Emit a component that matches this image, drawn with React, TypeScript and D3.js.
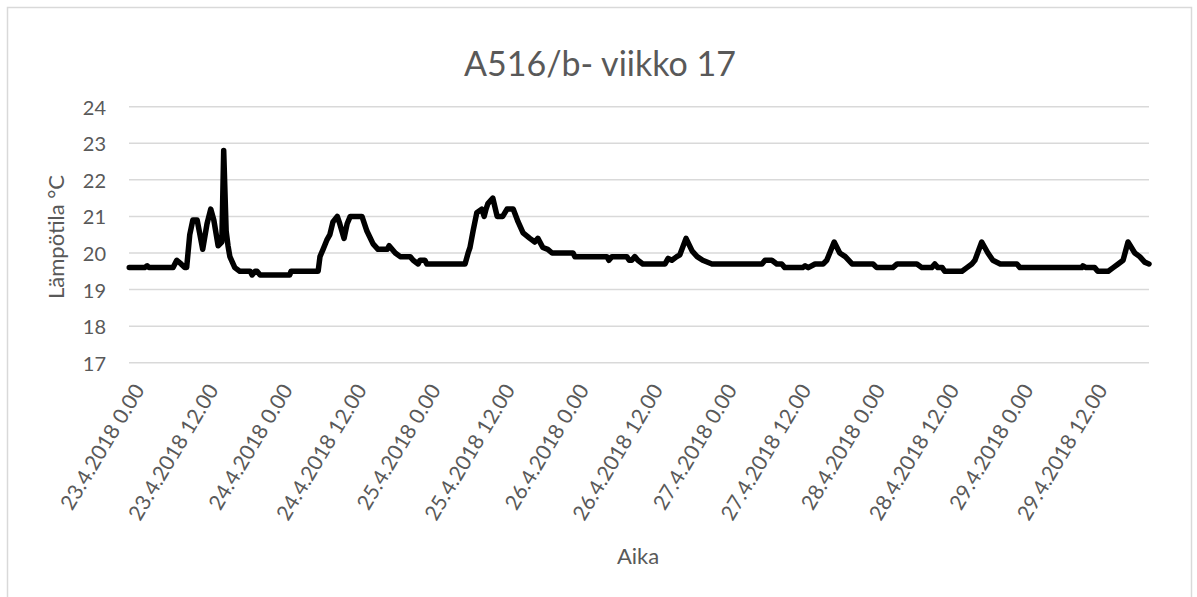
import React from "react";
import * as d3 from "d3";

// Hours since 23.4.2018 0.00
const hours = [
  -1.9, 0.6, 1.0, 1.3, 5.2, 5.8, 6.5, 7.1, 7.4, 7.9, 8.4, 9.1, 10.0, 10.7, 11.3, 11.8, 12.5, 13.1, 13.4, 13.8,
  14.1, 14.4, 15.2, 16.0, 17.7, 18.0, 18.5, 18.8, 19.3, 24.1, 24.3, 28.7, 29.0, 29.5, 30.1, 30.6, 31.1, 31.8,
  32.2, 32.9, 33.4, 33.9, 35.8, 36.6, 37.6, 38.4, 39.9, 40.2, 41.2, 42.0, 43.6, 44.1, 44.9, 45.2, 46.0, 46.3,
  52.5, 53.0, 53.3, 53.8, 54.4, 55.2, 55.6, 55.9, 56.2, 57.0, 57.7, 58.6, 59.3, 60.3, 61.1, 61.9, 63.0, 63.8,
  64.3, 65.1, 65.9, 66.6, 70.0, 70.3, 75.5, 75.8, 76.3, 78.7, 79.1, 79.5, 80.0, 80.5, 81.3, 84.9, 85.4, 86.0,
  86.8, 87.3, 88.3, 89.3, 90.1, 91.0, 92.5, 100.6, 101.1, 102.2, 103.0, 103.8, 104.3, 107.2, 107.6, 108.1,
  109.2, 110.5, 111.1, 112.3, 113.2, 114.1, 115.2, 118.6, 119.2, 121.8, 122.5, 125.7, 126.5, 128.1, 128.6,
  129.1, 129.8, 130.2, 133.0, 133.8, 134.6, 135.1, 136.2, 137.2, 138.0, 139.2, 141.9, 142.4, 152.4, 152.6,
  153.1, 154.5, 155.0, 156.7, 157.5, 158.3, 159.1, 159.9, 161.0, 161.8, 162.6, 163.3,
];

const temps = [
  19.6, 19.6, 19.65, 19.6, 19.6, 19.8, 19.7, 19.6, 19.6, 20.5, 20.9, 20.9, 20.1, 20.8, 21.2, 20.9, 20.2, 20.3, 22.8, 20.6,
  20.2, 19.9, 19.6, 19.5, 19.5, 19.4, 19.5, 19.5, 19.4, 19.4, 19.5, 19.5, 19.9, 20.1, 20.35, 20.5, 20.85, 21.0,
  20.8, 20.4, 20.8, 21.0, 21.0, 20.6, 20.25, 20.1, 20.1, 20.2, 20.0, 19.9, 19.9, 19.8, 19.7, 19.8, 19.8, 19.7,
  19.7, 20.0, 20.15, 20.6, 21.1, 21.2, 21.0, 21.2, 21.35, 21.5, 21.0, 21.0, 21.2, 21.2, 20.85, 20.55, 20.4, 20.3,
  20.4, 20.15, 20.1, 20.0, 20.0, 19.9, 19.9, 19.8, 19.9, 19.9, 19.8, 19.8, 19.9, 19.8, 19.7, 19.7, 19.85, 19.8,
  19.9, 19.95, 20.4, 20.05, 19.9, 19.8, 19.7, 19.7, 19.8, 19.8, 19.7, 19.7, 19.6, 19.6, 19.65, 19.6,
  19.7, 19.7, 19.8, 20.3, 20.0, 19.9, 19.7, 19.7, 19.6, 19.6, 19.7, 19.7, 19.6, 19.6, 19.7,
  19.6, 19.6, 19.5, 19.5, 19.6, 19.7, 19.8, 20.3, 20.0, 19.8, 19.7, 19.7, 19.6, 19.6, 19.65,
  19.6, 19.6, 19.5, 19.5, 19.6, 19.7, 19.8, 20.3, 20.0, 19.9, 19.75, 19.7,
];

const tickHours = [0, 12, 24, 36, 48, 60, 72, 84, 96, 108, 120, 132, 144, 156];
const tickLabels = [
  "23.4.2018 0.00", "23.4.2018 12.00", "24.4.2018 0.00", "24.4.2018 12.00",
  "25.4.2018 0.00", "25.4.2018 12.00", "26.4.2018 0.00", "26.4.2018 12.00",
  "27.4.2018 0.00", "27.4.2018 12.00", "28.4.2018 0.00", "28.4.2018 12.00",
  "29.4.2018 0.00", "29.4.2018 12.00",
];
const yTicks = [17, 18, 19, 20, 21, 22, 23, 24];

const title = "A516/b- viikko 17";
const yTitle = "Lämpötila °C";
const xTitle = "Aika";

export default function App() {
  const W = 1197, H = 597;
  const plotL = 129, plotR = 1149, plotT = 106.7, plotB = 362.7;
  const font = "Lato, 'Open Sans', sans-serif";
  const grey = "#595959";

  const x = d3.scaleLinear().domain([-1.94, 163.3]).range([plotL, plotR]);
  const y = d3.scaleLinear().domain([17, 24]).range([plotB, plotT]);
  const pts: [number, number][] = hours.map((h, i) => [h, temps[i]]);
  const line = d3.line<[number, number]>().x(d => x(d[0])).y(d => y(d[1]));

  return (
    <svg width={W} height={H} style={{ position: "absolute", left: 0, top: 0, background: "#fff" }}>
      <rect x={7.5} y={7.5} width={1184} height={620} fill="#fff" stroke="#d9d9d9" strokeWidth={1.5} />
      <text x={600} y={62} textAnchor="middle" dominantBaseline="central" fontFamily={font} fontSize={34} fill={grey}>
        {title}
      </text>
      {yTicks.map(t => (
        <g key={t}>
          <line x1={plotL} x2={plotR} y1={y(t)} y2={y(t)} stroke="#d9d9d9" strokeWidth={1.5} />
          <text x={106} y={y(t)} textAnchor="end" dominantBaseline="central" fontFamily={font} fontSize={20} fill={grey}>
            {t}
          </text>
        </g>
      ))}
      {tickHours.map((t, i) => (
        <text
          key={t}
          transform={`translate(${x(t) - 2},386) rotate(-59)`}
          textAnchor="end"
          dy="0.35em"
          fontFamily={font}
          fontSize={21}
          fill={grey}
        >
          {tickLabels[i]}
        </text>
      ))}
      <text transform={`translate(55,237) rotate(-90)`} textAnchor="middle" dominantBaseline="central" fontFamily={font} fontSize={22} fill={grey}>
        {yTitle}
      </text>
      <text x={638} y={555} textAnchor="middle" dominantBaseline="central" fontFamily={font} fontSize={22} fill={grey}>
        {xTitle}
      </text>
      <path d={line(pts) || ""} fill="none" stroke="#000" strokeWidth={5.5} strokeLinejoin="round" strokeLinecap="round" />
    </svg>
  );
}
